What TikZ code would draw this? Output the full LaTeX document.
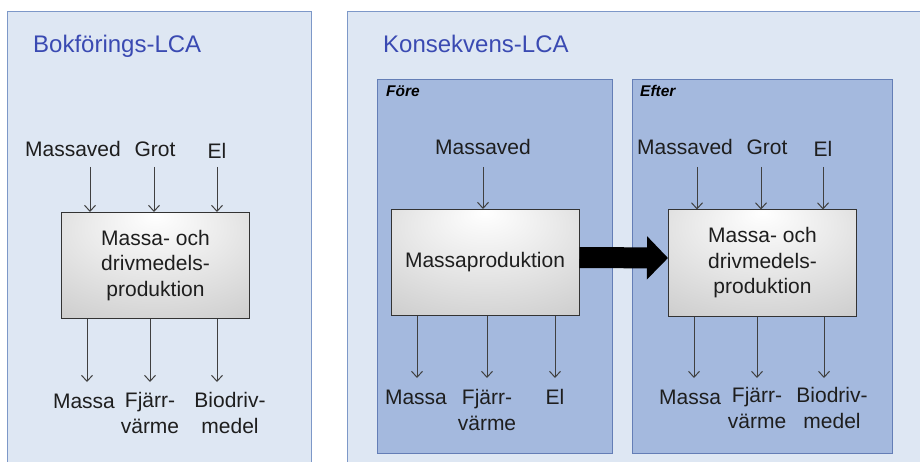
\documentclass[tikz,border=0pt]{standalone}
\usepackage{fontspec}
\setmainfont{Liberation Sans}
\usepackage{tikz}
\usetikzlibrary{arrows,arrows.meta,positioning,calc}

\definecolor{panelfill}{RGB}{222,231,243}
\definecolor{paneledge}{RGB}{125,152,200}
\definecolor{stagefill}{RGB}{164,185,222}
\definecolor{stageedge}{RGB}{100,126,182}
\definecolor{titleblue}{RGB}{58,74,178}
\definecolor{ink}{RGB}{30,30,30}

\pgfdeclareradialshading{procshade}{\pgfpoint{0bp}{24bp}}{%
  color(0bp)=(white); color(18bp)=(white!92!black);
  color(40bp)=(white!82!black); color(60bp)=(white!70!black);
  color(75bp)=(white!64!black)}

\tikzset{
  panel/.style={fill=panelfill,draw=paneledge,line width=1pt},
  stage/.style={fill=stagefill,draw=stageedge,line width=1pt},
  proc/.style={rectangle,draw=black!80,line width=1pt,shading=procshade,
    minimum width=188pt,minimum height=106pt,inner sep=0pt,align=center,
    text=ink,font=\fontsize{21}{25.5}\selectfont},
  lbl/.style={inner sep=0pt,anchor=base,align=center,text=ink,
    font=\fontsize{21}{25.5}\selectfont},
  title/.style={inner sep=0pt,anchor=base west,text=titleblue,
    font=\fontsize{24}{28}\selectfont},
  tag/.style={inner sep=0pt,anchor=base west,text=black,
    font=\fontsize{15.5}{18}\selectfont\bfseries\itshape},
  flow/.style={draw=black!75,line width=1pt,-{Straight Barb[length=6pt,width=11pt]}},
  bigflow/.style={draw=black,line width=21pt,-{Triangle[length=21pt,width=42pt]}}
}

\begin{document}
\begin{tikzpicture}[x=1pt,y=-1pt]
\useasboundingbox (0,0) rectangle (920,462);
\clip (0,0) rectangle (920,462);
\fill[white] (0,0) rectangle (920,462);

% panels
\draw[panel] (7,12) rectangle (311,480);
\draw[panel] (347,12) rectangle (940,480);
\draw[stage] (377,80) rectangle (612,453);
\draw[stage] (632,80) rectangle (892,453);

\node[title] (bTitle) at (33,53) {Bokförings-LCA};
\node[title] (kTitle) at (383,53) {Konsekvens-LCA};
\node[tag] (fTag) at (386,97) {Före};
\node[tag] (eTag) at (640,97) {Efter};

% Bokförings-LCA
\node[proc] (bProd) at (155.5,265.5) {Massa- och\\drivmedels-\\produktion};
\node[lbl] (bMv) at (73,157) {Massaved};
\node[lbl] (bGr) at (155,157) {Grot};
\node[lbl] (bEl) at (217,159) {El};
\foreach \x [count=\i] in {90,154,217}{
  \coordinate (bIn\i) at (\x,167);
  \draw[flow] (bIn\i) -- (bIn\i |- bProd.north);
}
\foreach \x [count=\i] in {87,150,217}{
  \coordinate (bOut\i) at (\x,382);
  \draw[flow] (bOut\i |- bProd.south) -- (bOut\i);
}
\node[lbl] (bMa) at (84,408) {Massa};
\node[lbl] (bFv) at (150,433) {Fjärr-\\värme};
\node[lbl] (bBd) at (230,433) {Biodriv-\\medel};

% Konsekvens-LCA, före
\node[proc] (fProd) at (485,262.5) {Massaproduktion};
\node[lbl] (fMv) at (483,155) {Massaved};
\coordinate (fIn1) at (483,167);
\draw[flow] (fIn1) -- (fIn1 |- fProd.north);
\foreach \x [count=\i] in {417,487,555}{
  \coordinate (fOut\i) at (\x,378);
  \draw[flow] (fOut\i |- fProd.south) -- (fOut\i);
}
\node[lbl] (fMa) at (416,404) {Massa};
\node[lbl] (fFv) at (487,430) {Fjärr-\\värme};
\node[lbl] (fEl) at (555,404) {El};

% Konsekvens-LCA, efter
\node[proc] (eProd) at (762.5,263) {Massa- och\\drivmedels-\\produktion};
\node[lbl] (eMv) at (685,155) {Massaved};
\node[lbl] (eGr) at (767,155) {Grot};
\node[lbl] (eEl) at (823,157) {El};
\foreach \x [count=\i] in {697,761,823}{
  \coordinate (eIn\i) at (\x,167);
  \draw[flow] (eIn\i) -- (eIn\i |- eProd.north);
}
\foreach \x [count=\i] in {694,757,824}{
  \coordinate (eOut\i) at (\x,378);
  \draw[flow] (eOut\i |- eProd.south) -- (eOut\i);
}
\node[lbl] (eMa) at (690,404) {Massa};
\node[lbl] (eFv) at (757,428) {Fjärr-\\värme};
\node[lbl] (eBd) at (832,428) {Biodriv-\\medel};

% change
\draw[bigflow] ([yshift=5pt]fProd.east) -- ([yshift=5pt]eProd.west);
\end{tikzpicture}
\end{document}
